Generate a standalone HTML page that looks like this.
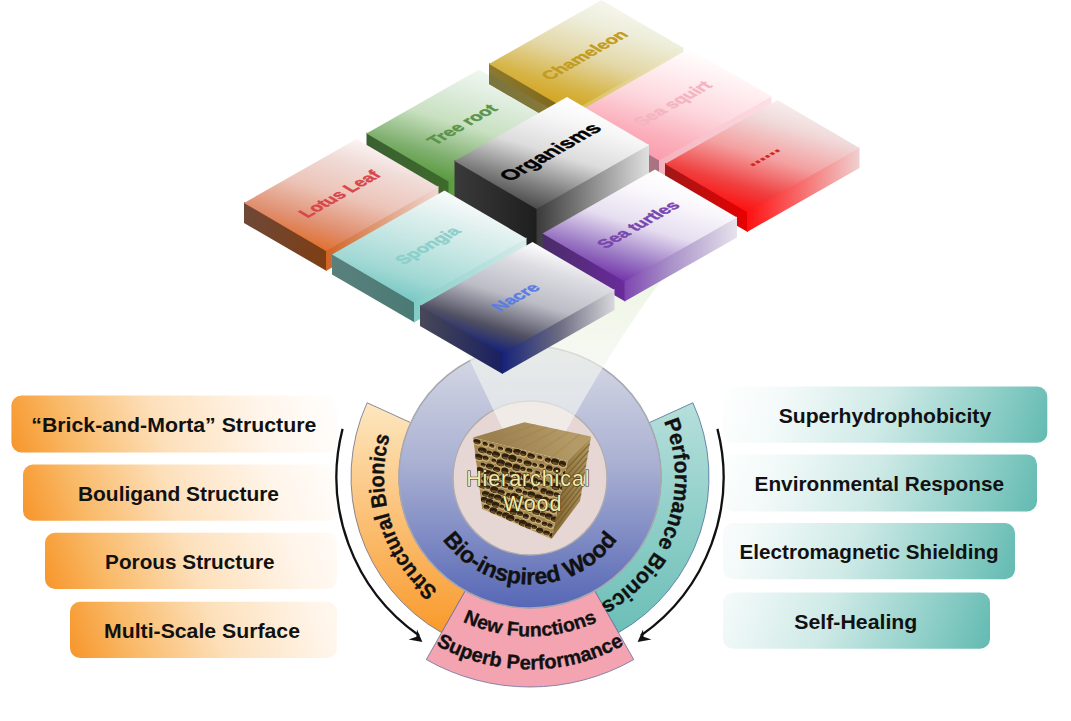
<!DOCTYPE html><html><head><meta charset="utf-8"><style>html,body{margin:0;padding:0;background:#fff;}svg{display:block}</style></head><body>
<svg width="1071" height="721" viewBox="0 0 1071 721">
<defs><linearGradient id="gOr" x1="0" y1="1" x2="1" y2="0.3">
<stop offset="0" stop-color="#f7982a"/><stop offset="0.45" stop-color="#fbd7a6"/><stop offset="1" stop-color="#ffffff"/></linearGradient><linearGradient id="gTe" x1="1" y1="1" x2="0" y2="0.3">
<stop offset="0" stop-color="#6cbfb6"/><stop offset="0.5" stop-color="#c4e6e2"/><stop offset="1" stop-color="#ffffff"/></linearGradient><linearGradient id="go395" gradientUnits="userSpaceOnUse" x1="11.4" y1="452.5" x2="321.6" y2="340.3"><stop offset="0" stop-color="#f7952a"/><stop offset="0.18" stop-color="#f9b865"/><stop offset="0.45" stop-color="#fde0bb"/><stop offset="0.75" stop-color="#fff5ea"/><stop offset="1" stop-color="#ffffff"/></linearGradient><linearGradient id="go464" gradientUnits="userSpaceOnUse" x1="23" y1="520.7" x2="333.2" y2="408.5"><stop offset="0" stop-color="#f7952a"/><stop offset="0.18" stop-color="#f9b865"/><stop offset="0.45" stop-color="#fde0bb"/><stop offset="0.75" stop-color="#fff5ea"/><stop offset="1" stop-color="#ffffff"/></linearGradient><linearGradient id="go532" gradientUnits="userSpaceOnUse" x1="45" y1="588.9" x2="355.2" y2="476.7"><stop offset="0" stop-color="#f7952a"/><stop offset="0.18" stop-color="#f9b865"/><stop offset="0.45" stop-color="#fde0bb"/><stop offset="0.75" stop-color="#fff5ea"/><stop offset="1" stop-color="#ffffff"/></linearGradient><linearGradient id="go601" gradientUnits="userSpaceOnUse" x1="70" y1="658" x2="380.2" y2="545.8"><stop offset="0" stop-color="#f7952a"/><stop offset="0.18" stop-color="#f9b865"/><stop offset="0.45" stop-color="#fde0bb"/><stop offset="0.75" stop-color="#fff5ea"/><stop offset="1" stop-color="#ffffff"/></linearGradient><linearGradient id="gt386" gradientUnits="userSpaceOnUse" x1="1047.3" y1="442.8" x2="737.1" y2="330.6"><stop offset="0" stop-color="#62bab1"/><stop offset="0.2" stop-color="#8fcfc8"/><stop offset="0.5" stop-color="#cfeae7"/><stop offset="0.8" stop-color="#f3faf9"/><stop offset="1" stop-color="#ffffff"/></linearGradient><linearGradient id="gt454" gradientUnits="userSpaceOnUse" x1="1037" y1="511.4" x2="726.8" y2="399.2"><stop offset="0" stop-color="#62bab1"/><stop offset="0.2" stop-color="#8fcfc8"/><stop offset="0.5" stop-color="#cfeae7"/><stop offset="0.8" stop-color="#f3faf9"/><stop offset="1" stop-color="#ffffff"/></linearGradient><linearGradient id="gt523" gradientUnits="userSpaceOnUse" x1="1015" y1="579.2" x2="704.8" y2="467.0"><stop offset="0" stop-color="#62bab1"/><stop offset="0.2" stop-color="#8fcfc8"/><stop offset="0.5" stop-color="#cfeae7"/><stop offset="0.8" stop-color="#f3faf9"/><stop offset="1" stop-color="#ffffff"/></linearGradient><linearGradient id="gt592" gradientUnits="userSpaceOnUse" x1="990" y1="648.7" x2="679.8" y2="536.5"><stop offset="0" stop-color="#62bab1"/><stop offset="0.2" stop-color="#8fcfc8"/><stop offset="0.5" stop-color="#cfeae7"/><stop offset="0.8" stop-color="#f3faf9"/><stop offset="1" stop-color="#ffffff"/></linearGradient><linearGradient id="gBandO" x1="0" y1="0" x2="0" y2="1"><stop offset="0" stop-color="#fde7c0"/><stop offset="1" stop-color="#f99a2c"/></linearGradient><linearGradient id="gBandT" x1="0" y1="0" x2="0" y2="1"><stop offset="0" stop-color="#b6dfdb"/><stop offset="1" stop-color="#6bbfb7"/></linearGradient><linearGradient id="gRing" x1="0" y1="0" x2="0" y2="1"><stop offset="0" stop-color="#d9dbe6"/><stop offset="0.45" stop-color="#a9b0d2"/><stop offset="1" stop-color="#5667b6"/></linearGradient><linearGradient id="gBeam" gradientUnits="userSpaceOnUse" x1="0" y1="270" x2="0" y2="490"><stop offset="0" stop-color="#e6f2d8" stop-opacity="0.75"/><stop offset="0.45" stop-color="#f2f6ee" stop-opacity="0.62"/><stop offset="1" stop-color="#ffffff" stop-opacity="0.55"/></linearGradient><clipPath id="cFront"><polygon points="473,437.5 567.7,461 551.5,539 482,509"/></clipPath><linearGradient id="gWTop" gradientUnits="userSpaceOnUse" x1="500" y1="450" x2="560" y2="420"><stop offset="0" stop-color="#9c8050"/><stop offset="1" stop-color="#b49a66"/></linearGradient><linearGradient id="gWR" gradientUnits="userSpaceOnUse" x1="560" y1="0" x2="592" y2="0"><stop offset="0" stop-color="#8a6e38"/><stop offset="1" stop-color="#b09860"/></linearGradient><path id="pStruct" d="M481.26,614.63 A146,146 0 0 1 412.03,390.98"/><path id="pPerf" d="M651.19,397.39 A145,145 0 0 1 575.53,614.67"/><path id="pBio" d="M424.13,495.67 A107.5,107.5 0 0 0 635.87,495.67"/><path id="pNew" d="M427.48,599.18 A159.5,159.5 0 0 0 632.52,599.18"/><path id="pSup" d="M406.26,624.46 A192.5,192.5 0 0 0 653.74,624.46"/><linearGradient id="t_tree" gradientUnits="userSpaceOnUse" x1="448.5" y1="181.5" x2="481.8" y2="70.3"><stop offset="0" stop-color="#5a9a3e"/><stop offset="0.2" stop-color="#80b070"/><stop offset="0.5" stop-color="#c8e0c0"/><stop offset="0.8" stop-color="#e0eee0"/><stop offset="1" stop-color="#f0f8f0"/></linearGradient><linearGradient id="l_tree" gradientUnits="userSpaceOnUse" x1="366.5" y1="0" x2="448.5" y2="0"><stop offset="0" stop-color="#3a6030"/><stop offset="1" stop-color="#3e6a2c"/></linearGradient><linearGradient id="r_tree" gradientUnits="userSpaceOnUse" x1="448.5" y1="0" x2="561.0" y2="0"><stop offset="0" stop-color="#5a9a40"/><stop offset="1" stop-color="#c8e0c8"/></linearGradient><linearGradient id="t_cham" gradientUnits="userSpaceOnUse" x1="571.0" y1="112.0" x2="604.3" y2="0.8"><stop offset="0" stop-color="#d4a21a"/><stop offset="0.2" stop-color="#d6b446"/><stop offset="0.5" stop-color="#e4d8a8"/><stop offset="0.8" stop-color="#eeeedc"/><stop offset="1" stop-color="#f6f6ee"/></linearGradient><linearGradient id="l_cham" gradientUnits="userSpaceOnUse" x1="489.0" y1="0" x2="571.0" y2="0"><stop offset="0" stop-color="#8c7a30"/><stop offset="1" stop-color="#7c6418"/></linearGradient><linearGradient id="r_cham" gradientUnits="userSpaceOnUse" x1="571.0" y1="0" x2="683.5" y2="0"><stop offset="0" stop-color="#d8b84a"/><stop offset="1" stop-color="#eeeed8"/></linearGradient><linearGradient id="l2_cham" gradientUnits="userSpaceOnUse" x1="489.0" y1="0" x2="571.0" y2="0"><stop offset="0" stop-color="#7a7440"/><stop offset="1" stop-color="#8a7a34"/></linearGradient><linearGradient id="t_sq" gradientUnits="userSpaceOnUse" x1="659.0" y1="160.5" x2="692.3" y2="49.3"><stop offset="0" stop-color="#fb9cae"/><stop offset="0.2" stop-color="#fbb0bc"/><stop offset="0.5" stop-color="#fdd8de"/><stop offset="0.8" stop-color="#fff0f2"/><stop offset="1" stop-color="#ffffff"/></linearGradient><linearGradient id="l_sq" gradientUnits="userSpaceOnUse" x1="577.0" y1="0" x2="659.0" y2="0"><stop offset="0" stop-color="#c09098"/><stop offset="1" stop-color="#a87080"/></linearGradient><linearGradient id="r_sq" gradientUnits="userSpaceOnUse" x1="659.0" y1="0" x2="771.5" y2="0"><stop offset="0" stop-color="#f4b0bc"/><stop offset="1" stop-color="#fde0e6"/></linearGradient><linearGradient id="t_lotus" gradientUnits="userSpaceOnUse" x1="326.0" y1="251.0" x2="359.3" y2="139.8"><stop offset="0" stop-color="#e07030"/><stop offset="0.2" stop-color="#e09070"/><stop offset="0.5" stop-color="#ecc4b8"/><stop offset="0.8" stop-color="#f0dcd8"/><stop offset="1" stop-color="#fcf4f4"/></linearGradient><linearGradient id="l_lotus" gradientUnits="userSpaceOnUse" x1="244.0" y1="0" x2="326.0" y2="0"><stop offset="0" stop-color="#6e4838"/><stop offset="1" stop-color="#7e3e14"/></linearGradient><linearGradient id="r_lotus" gradientUnits="userSpaceOnUse" x1="326.0" y1="0" x2="438.5" y2="0"><stop offset="0" stop-color="#d06424"/><stop offset="1" stop-color="#f0d8d4"/></linearGradient><linearGradient id="t_org" gradientUnits="userSpaceOnUse" x1="536.5" y1="209.0" x2="569.8" y2="97.8"><stop offset="0" stop-color="#4a4a4a"/><stop offset="0.2" stop-color="#808080"/><stop offset="0.5" stop-color="#dcdcdc"/><stop offset="0.8" stop-color="#f6f6f6"/><stop offset="1" stop-color="#ffffff"/></linearGradient><linearGradient id="l_org" gradientUnits="userSpaceOnUse" x1="454.5" y1="0" x2="536.5" y2="0"><stop offset="0" stop-color="#3a3a3a"/><stop offset="1" stop-color="#1e1e1e"/></linearGradient><linearGradient id="r_org" gradientUnits="userSpaceOnUse" x1="536.5" y1="0" x2="649.0" y2="0"><stop offset="0" stop-color="#3a3a3a"/><stop offset="1" stop-color="#e0e0e0"/></linearGradient><linearGradient id="t_red" gradientUnits="userSpaceOnUse" x1="747.0" y1="212.0" x2="780.3" y2="100.8"><stop offset="0" stop-color="#ff1010"/><stop offset="0.2" stop-color="#f04040"/><stop offset="0.5" stop-color="#f4a0a0"/><stop offset="0.8" stop-color="#f0d8d8"/><stop offset="1" stop-color="#f8eeee"/></linearGradient><linearGradient id="l_red" gradientUnits="userSpaceOnUse" x1="665.0" y1="0" x2="747.0" y2="0"><stop offset="0" stop-color="#a01818"/><stop offset="1" stop-color="#e80000"/></linearGradient><linearGradient id="r_red" gradientUnits="userSpaceOnUse" x1="747.0" y1="0" x2="859.5" y2="0"><stop offset="0" stop-color="#ff1010"/><stop offset="1" stop-color="#f0d0d0"/></linearGradient><linearGradient id="t_spon" gradientUnits="userSpaceOnUse" x1="414.0" y1="302.5" x2="447.3" y2="191.3"><stop offset="0" stop-color="#78c8c4"/><stop offset="0.2" stop-color="#a0d8d4"/><stop offset="0.5" stop-color="#c4e6e3"/><stop offset="0.8" stop-color="#e4f2f0"/><stop offset="1" stop-color="#fafcfc"/></linearGradient><linearGradient id="l_spon" gradientUnits="userSpaceOnUse" x1="332.0" y1="0" x2="414.0" y2="0"><stop offset="0" stop-color="#5a807c"/><stop offset="1" stop-color="#4a7a74"/></linearGradient><linearGradient id="r_spon" gradientUnits="userSpaceOnUse" x1="414.0" y1="0" x2="526.5" y2="0"><stop offset="0" stop-color="#80ccc6"/><stop offset="1" stop-color="#d8eceb"/></linearGradient><linearGradient id="t_turt" gradientUnits="userSpaceOnUse" x1="624.5" y1="281.5" x2="657.8" y2="170.3"><stop offset="0" stop-color="#7434aa"/><stop offset="0.2" stop-color="#9a78c4"/><stop offset="0.5" stop-color="#e6def0"/><stop offset="0.8" stop-color="#faf8fc"/><stop offset="1" stop-color="#ffffff"/></linearGradient><linearGradient id="l_turt" gradientUnits="userSpaceOnUse" x1="542.5" y1="0" x2="624.5" y2="0"><stop offset="0" stop-color="#4a2c68"/><stop offset="1" stop-color="#6a2a9c"/></linearGradient><linearGradient id="r_turt" gradientUnits="userSpaceOnUse" x1="624.5" y1="0" x2="737.0" y2="0"><stop offset="0" stop-color="#7e46b0"/><stop offset="0.4" stop-color="#a890c8"/><stop offset="1" stop-color="#e6e2ec"/></linearGradient><linearGradient id="t_nacre" gradientUnits="userSpaceOnUse" x1="502.0" y1="354.0" x2="535.3" y2="242.8"><stop offset="0" stop-color="#13207a"/><stop offset="0.2" stop-color="#505062"/><stop offset="0.5" stop-color="#bcbcc6"/><stop offset="0.8" stop-color="#dcdce2"/><stop offset="1" stop-color="#ffffff"/></linearGradient><linearGradient id="l_nacre" gradientUnits="userSpaceOnUse" x1="420.0" y1="0" x2="502.0" y2="0"><stop offset="0" stop-color="#484858"/><stop offset="1" stop-color="#1a2060"/></linearGradient><linearGradient id="r_nacre" gradientUnits="userSpaceOnUse" x1="502.0" y1="0" x2="614.5" y2="0"><stop offset="0" stop-color="#16227a"/><stop offset="0.5" stop-color="#6a6a80"/><stop offset="1" stop-color="#d8d8dc"/></linearGradient></defs>
<rect width="1071" height="721" fill="#fff"/>
<rect x="11.4" y="395.5" width="325.6" height="57.0" rx="10" fill="url(#go395)"/>
<text x="173.8" y="432.0" text-anchor="middle" font-family="Liberation Sans, sans-serif" font-weight="bold" font-size="20.5" fill="#111" textLength="285" lengthAdjust="spacingAndGlyphs">“Brick-and-Morta” Structure</text>
<rect x="23" y="464.5" width="314" height="56.200000000000045" rx="10" fill="url(#go464)"/>
<text x="178.5" y="500.6" text-anchor="middle" font-family="Liberation Sans, sans-serif" font-weight="bold" font-size="20.5" fill="#111" textLength="201" lengthAdjust="spacingAndGlyphs">Bouligand Structure</text>
<rect x="45" y="532.7" width="292" height="56.19999999999993" rx="10" fill="url(#go532)"/>
<text x="189.8" y="568.8" text-anchor="middle" font-family="Liberation Sans, sans-serif" font-weight="bold" font-size="20.5" fill="#111" textLength="169.4" lengthAdjust="spacingAndGlyphs">Porous Structure</text>
<rect x="70" y="601.8" width="267" height="56.200000000000045" rx="10" fill="url(#go601)"/>
<text x="202" y="637.9" text-anchor="middle" font-family="Liberation Sans, sans-serif" font-weight="bold" font-size="20.5" fill="#111" textLength="196" lengthAdjust="spacingAndGlyphs">Multi-Scale Surface</text>
<rect x="723" y="386.6" width="324.29999999999995" height="56.19999999999999" rx="10" fill="url(#gt386)"/>
<text x="884.9" y="422.70000000000005" text-anchor="middle" font-family="Liberation Sans, sans-serif" font-weight="bold" font-size="20.5" fill="#111" textLength="212.5" lengthAdjust="spacingAndGlyphs">Superhydrophobicity</text>
<rect x="723" y="454.4" width="314" height="57.0" rx="10" fill="url(#gt454)"/>
<text x="879.3" y="490.9" text-anchor="middle" font-family="Liberation Sans, sans-serif" font-weight="bold" font-size="20.5" fill="#111" textLength="249.5" lengthAdjust="spacingAndGlyphs">Environmental Response</text>
<rect x="723" y="523" width="292" height="56.200000000000045" rx="10" fill="url(#gt523)"/>
<text x="869.1" y="559.1" text-anchor="middle" font-family="Liberation Sans, sans-serif" font-weight="bold" font-size="20.5" fill="#111" textLength="259" lengthAdjust="spacingAndGlyphs">Electromagnetic Shielding</text>
<rect x="723" y="592.5" width="267" height="56.200000000000045" rx="10" fill="url(#gt592)"/>
<text x="855.8" y="628.6" text-anchor="middle" font-family="Liberation Sans, sans-serif" font-weight="bold" font-size="20.5" fill="#111" textLength="123" lengthAdjust="spacingAndGlyphs">Self-Healing</text>
<path d="M342.58,428.88 A193.5,193.5 0 0 0 419.01,635.51" fill="none" stroke="#111" stroke-width="2.3"/>
<path d="M717.42,428.88 A193.5,193.5 0 0 1 640.99,635.51" fill="none" stroke="#111" stroke-width="2.3"/>
<path d="M408.6,639.4 L422.4,642.0 L417.0,629.6 L416.4,636.8 Z" fill="#111"/>
<path d="M651.4,639.4 L637.6,642.0 L643.0,629.6 L643.6,636.8 Z" fill="#111"/>
<path d="M441.58,632.64 A179,179 0 0 1 367.12,402.77 L410.80,422.68 A131,131 0 0 0 465.29,590.90 Z" fill="url(#gBandO)" stroke="#6a6f8a" stroke-width="0.8"/>
<path d="M692.88,402.77 A179,179 0 0 1 618.42,632.64 L594.71,590.90 A131,131 0 0 0 649.20,422.68 Z" fill="url(#gBandT)" stroke="#4a6f9a" stroke-width="0.8"/>
<path d="M633.73,659.59 A210,210 0 0 1 426.27,659.59 L465.29,590.90 A131,131 0 0 0 594.71,590.90 Z" fill="#f4a3b0" stroke="#6a6f9a" stroke-width="0.8"/>
<circle cx="530" cy="477" r="131" fill="url(#gRing)" stroke="#a8a8b0" stroke-width="1.5"/>
<circle cx="530" cy="478" r="77" fill="#e6d6d4" stroke="#b0acb0" stroke-width="1.5"/>
<path d="M441,300 L677,260 Q609,345 533,493 Z" fill="url(#gBeam)"/>
<polygon points="473,437.5 524.5,422.2 591,436.6 567.7,461" fill="url(#gWTop)"/>
<line x1="488.8" y1="441.4" x2="535.6" y2="424.6" stroke="#9a7e48" stroke-width="1.5" opacity="0.3"/>
<line x1="504.6" y1="445.3" x2="546.7" y2="427.0" stroke="#9a7e48" stroke-width="1.5" opacity="0.3"/>
<line x1="520.4" y1="449.2" x2="557.8" y2="429.4" stroke="#9a7e48" stroke-width="1.5" opacity="0.3"/>
<line x1="536.1" y1="453.2" x2="568.8" y2="431.8" stroke="#9a7e48" stroke-width="1.5" opacity="0.3"/>
<line x1="551.9" y1="457.1" x2="579.9" y2="434.2" stroke="#9a7e48" stroke-width="1.5" opacity="0.3"/>
<polygon points="567.7,461 591,436.6 580,501 551.5,539" fill="url(#gWR)"/>
<line x1="565.9" y1="469.7" x2="589.8" y2="443.8" stroke="#6e5628" stroke-width="1.2" opacity="0.7"/>
<line x1="564.1" y1="478.3" x2="588.6" y2="450.9" stroke="#6e5628" stroke-width="1.2" opacity="0.7"/>
<line x1="562.3" y1="487.0" x2="587.3" y2="458.1" stroke="#6e5628" stroke-width="1.2" opacity="0.7"/>
<line x1="560.5" y1="495.7" x2="586.1" y2="465.2" stroke="#6e5628" stroke-width="1.2" opacity="0.7"/>
<line x1="558.7" y1="504.3" x2="584.9" y2="472.4" stroke="#6e5628" stroke-width="1.2" opacity="0.7"/>
<line x1="556.9" y1="513.0" x2="583.7" y2="479.5" stroke="#6e5628" stroke-width="1.2" opacity="0.7"/>
<line x1="555.1" y1="521.7" x2="582.4" y2="486.7" stroke="#6e5628" stroke-width="1.2" opacity="0.7"/>
<line x1="553.3" y1="530.3" x2="581.2" y2="493.8" stroke="#6e5628" stroke-width="1.2" opacity="0.7"/>
<g clip-path="url(#cFront)"><polygon points="473,437.5 567.7,461 551.5,539 482,509" fill="#a48650"/>
<ellipse cx="477.4" cy="442.3" rx="4.8" ry="3.3" transform="rotate(15 476.9 441.6)" fill="#caae74"/>
<ellipse cx="476.9" cy="441.6" rx="3.9" ry="2.4" transform="rotate(15 476.9 441.6)" fill="#2e200c"/>
<ellipse cx="477.2" cy="442.9" rx="2.9" ry="0.8" transform="rotate(15 476.9 441.6)" fill="#6a5028"/>
<ellipse cx="485.7" cy="444.6" rx="3.6" ry="2.8" transform="rotate(15 485.2 443.9)" fill="#caae74"/>
<ellipse cx="485.2" cy="443.9" rx="2.7" ry="1.9" transform="rotate(15 485.2 443.9)" fill="#2e200c"/>
<ellipse cx="485.5" cy="445.0" rx="2.0" ry="0.7" transform="rotate(15 485.2 443.9)" fill="#6a5028"/>
<ellipse cx="492.3" cy="446.4" rx="3.6" ry="2.6" transform="rotate(15 491.8 445.7)" fill="#caae74"/>
<ellipse cx="491.8" cy="445.7" rx="2.7" ry="1.7" transform="rotate(15 491.8 445.7)" fill="#2e200c"/>
<ellipse cx="492.1" cy="446.6" rx="2.1" ry="0.6" transform="rotate(15 491.8 445.7)" fill="#6a5028"/>
<ellipse cx="501.0" cy="449.1" rx="3.7" ry="2.7" transform="rotate(15 500.5 448.4)" fill="#caae74"/>
<ellipse cx="500.5" cy="448.4" rx="2.8" ry="1.8" transform="rotate(15 500.5 448.4)" fill="#2e200c"/>
<ellipse cx="500.8" cy="449.4" rx="2.1" ry="0.6" transform="rotate(15 500.5 448.4)" fill="#6a5028"/>
<ellipse cx="509.3" cy="451.3" rx="4.7" ry="3.5" transform="rotate(15 508.8 450.6)" fill="#caae74"/>
<ellipse cx="508.8" cy="450.6" rx="3.8" ry="2.6" transform="rotate(15 508.8 450.6)" fill="#2e200c"/>
<ellipse cx="509.1" cy="452.0" rx="2.8" ry="0.9" transform="rotate(15 508.8 450.6)" fill="#6a5028"/>
<ellipse cx="517.9" cy="452.4" rx="5.2" ry="3.7" transform="rotate(15 517.4 451.7)" fill="#caae74"/>
<ellipse cx="517.4" cy="451.7" rx="4.3" ry="2.8" transform="rotate(15 517.4 451.7)" fill="#2e200c"/>
<ellipse cx="517.7" cy="453.3" rx="3.2" ry="1.0" transform="rotate(15 517.4 451.7)" fill="#6a5028"/>
<ellipse cx="523.8" cy="454.0" rx="4.1" ry="3.4" transform="rotate(15 523.3 453.3)" fill="#caae74"/>
<ellipse cx="523.3" cy="453.3" rx="3.2" ry="2.5" transform="rotate(15 523.3 453.3)" fill="#2e200c"/>
<ellipse cx="523.6" cy="454.7" rx="2.4" ry="0.9" transform="rotate(15 523.3 453.3)" fill="#6a5028"/>
<ellipse cx="531.6" cy="456.6" rx="4.8" ry="3.5" transform="rotate(15 531.1 455.9)" fill="#caae74"/>
<ellipse cx="531.1" cy="455.9" rx="3.9" ry="2.6" transform="rotate(15 531.1 455.9)" fill="#2e200c"/>
<ellipse cx="531.4" cy="457.3" rx="2.9" ry="0.9" transform="rotate(15 531.1 455.9)" fill="#6a5028"/>
<ellipse cx="540.3" cy="458.1" rx="3.6" ry="2.6" transform="rotate(15 539.8 457.4)" fill="#caae74"/>
<ellipse cx="539.8" cy="457.4" rx="2.7" ry="1.7" transform="rotate(15 539.8 457.4)" fill="#2e200c"/>
<ellipse cx="540.1" cy="458.4" rx="2.0" ry="0.6" transform="rotate(15 539.8 457.4)" fill="#6a5028"/>
<ellipse cx="548.4" cy="460.7" rx="4.1" ry="3.2" transform="rotate(15 547.9 460.0)" fill="#caae74"/>
<ellipse cx="547.9" cy="460.0" rx="3.2" ry="2.3" transform="rotate(15 547.9 460.0)" fill="#2e200c"/>
<ellipse cx="548.2" cy="461.2" rx="2.4" ry="0.8" transform="rotate(15 547.9 460.0)" fill="#6a5028"/>
<ellipse cx="555.6" cy="462.3" rx="5.1" ry="4.0" transform="rotate(15 555.1 461.6)" fill="#caae74"/>
<ellipse cx="555.1" cy="461.6" rx="4.2" ry="3.1" transform="rotate(15 555.1 461.6)" fill="#2e200c"/>
<ellipse cx="555.4" cy="463.4" rx="3.1" ry="1.1" transform="rotate(15 555.1 461.6)" fill="#6a5028"/>
<ellipse cx="562.9" cy="464.5" rx="4.6" ry="3.7" transform="rotate(15 562.4 463.8)" fill="#caae74"/>
<ellipse cx="562.4" cy="463.8" rx="3.7" ry="2.8" transform="rotate(15 562.4 463.8)" fill="#2e200c"/>
<ellipse cx="562.7" cy="465.4" rx="2.7" ry="1.0" transform="rotate(15 562.4 463.8)" fill="#6a5028"/>
<ellipse cx="482.9" cy="450.9" rx="5.5" ry="3.7" transform="rotate(15 482.4 450.2)" fill="#caae74"/>
<ellipse cx="482.4" cy="450.2" rx="4.6" ry="2.8" transform="rotate(15 482.4 450.2)" fill="#2e200c"/>
<ellipse cx="482.7" cy="451.7" rx="3.4" ry="1.0" transform="rotate(15 482.4 450.2)" fill="#6a5028"/>
<ellipse cx="489.8" cy="453.3" rx="3.8" ry="2.9" transform="rotate(15 489.3 452.6)" fill="#caae74"/>
<ellipse cx="489.3" cy="452.6" rx="2.9" ry="2.0" transform="rotate(15 489.3 452.6)" fill="#2e200c"/>
<ellipse cx="489.6" cy="453.7" rx="2.2" ry="0.7" transform="rotate(15 489.3 452.6)" fill="#6a5028"/>
<ellipse cx="496.5" cy="455.0" rx="5.0" ry="3.9" transform="rotate(15 496.0 454.3)" fill="#caae74"/>
<ellipse cx="496.0" cy="454.3" rx="4.1" ry="3.0" transform="rotate(15 496.0 454.3)" fill="#2e200c"/>
<ellipse cx="496.3" cy="455.9" rx="3.1" ry="1.0" transform="rotate(15 496.0 454.3)" fill="#6a5028"/>
<ellipse cx="506.0" cy="457.1" rx="4.9" ry="3.8" transform="rotate(15 505.5 456.4)" fill="#caae74"/>
<ellipse cx="505.5" cy="456.4" rx="4.0" ry="2.9" transform="rotate(15 505.5 456.4)" fill="#2e200c"/>
<ellipse cx="505.8" cy="458.0" rx="3.0" ry="1.0" transform="rotate(15 505.5 456.4)" fill="#6a5028"/>
<ellipse cx="512.9" cy="459.1" rx="5.2" ry="4.3" transform="rotate(15 512.4 458.4)" fill="#caae74"/>
<ellipse cx="512.4" cy="458.4" rx="4.3" ry="3.4" transform="rotate(15 512.4 458.4)" fill="#2e200c"/>
<ellipse cx="512.7" cy="460.3" rx="3.2" ry="1.2" transform="rotate(15 512.4 458.4)" fill="#6a5028"/>
<ellipse cx="520.2" cy="461.3" rx="3.6" ry="2.9" transform="rotate(15 519.7 460.6)" fill="#caae74"/>
<ellipse cx="519.7" cy="460.6" rx="2.7" ry="2.0" transform="rotate(15 519.7 460.6)" fill="#2e200c"/>
<ellipse cx="520.0" cy="461.8" rx="2.0" ry="0.7" transform="rotate(15 519.7 460.6)" fill="#6a5028"/>
<ellipse cx="528.2" cy="463.9" rx="5.1" ry="3.7" transform="rotate(15 527.7 463.2)" fill="#caae74"/>
<ellipse cx="527.7" cy="463.2" rx="4.2" ry="2.8" transform="rotate(15 527.7 463.2)" fill="#2e200c"/>
<ellipse cx="528.0" cy="464.7" rx="3.2" ry="1.0" transform="rotate(15 527.7 463.2)" fill="#6a5028"/>
<ellipse cx="535.2" cy="465.4" rx="3.5" ry="2.7" transform="rotate(15 534.7 464.7)" fill="#caae74"/>
<ellipse cx="534.7" cy="464.7" rx="2.6" ry="1.8" transform="rotate(15 534.7 464.7)" fill="#2e200c"/>
<ellipse cx="535.0" cy="465.7" rx="2.0" ry="0.6" transform="rotate(15 534.7 464.7)" fill="#6a5028"/>
<ellipse cx="542.3" cy="466.6" rx="3.6" ry="2.9" transform="rotate(15 541.8 465.9)" fill="#caae74"/>
<ellipse cx="541.8" cy="465.9" rx="2.7" ry="2.0" transform="rotate(15 541.8 465.9)" fill="#2e200c"/>
<ellipse cx="542.1" cy="467.0" rx="2.0" ry="0.7" transform="rotate(15 541.8 465.9)" fill="#6a5028"/>
<ellipse cx="549.8" cy="468.8" rx="4.3" ry="3.5" transform="rotate(15 549.3 468.1)" fill="#caae74"/>
<ellipse cx="549.3" cy="468.1" rx="3.4" ry="2.6" transform="rotate(15 549.3 468.1)" fill="#2e200c"/>
<ellipse cx="549.6" cy="469.5" rx="2.5" ry="0.9" transform="rotate(15 549.3 468.1)" fill="#6a5028"/>
<ellipse cx="557.3" cy="471.0" rx="4.6" ry="3.8" transform="rotate(15 556.8 470.3)" fill="#caae74"/>
<ellipse cx="556.8" cy="470.3" rx="3.7" ry="2.9" transform="rotate(15 556.8 470.3)" fill="#2e200c"/>
<ellipse cx="557.1" cy="471.9" rx="2.8" ry="1.0" transform="rotate(15 556.8 470.3)" fill="#6a5028"/>
<ellipse cx="566.4" cy="474.0" rx="4.1" ry="3.1" transform="rotate(15 565.9 473.3)" fill="#caae74"/>
<ellipse cx="565.9" cy="473.3" rx="3.2" ry="2.2" transform="rotate(15 565.9 473.3)" fill="#2e200c"/>
<ellipse cx="566.2" cy="474.5" rx="2.4" ry="0.8" transform="rotate(15 565.9 473.3)" fill="#6a5028"/>
<ellipse cx="479.2" cy="457.5" rx="5.4" ry="3.7" transform="rotate(15 478.7 456.8)" fill="#caae74"/>
<ellipse cx="478.7" cy="456.8" rx="4.5" ry="2.8" transform="rotate(15 478.7 456.8)" fill="#2e200c"/>
<ellipse cx="479.0" cy="458.3" rx="3.4" ry="1.0" transform="rotate(15 478.7 456.8)" fill="#6a5028"/>
<ellipse cx="486.1" cy="458.7" rx="4.0" ry="3.0" transform="rotate(15 485.6 458.0)" fill="#caae74"/>
<ellipse cx="485.6" cy="458.0" rx="3.1" ry="2.1" transform="rotate(15 485.6 458.0)" fill="#2e200c"/>
<ellipse cx="485.9" cy="459.2" rx="2.3" ry="0.7" transform="rotate(15 485.6 458.0)" fill="#6a5028"/>
<ellipse cx="494.3" cy="461.1" rx="3.5" ry="2.7" transform="rotate(15 493.8 460.4)" fill="#caae74"/>
<ellipse cx="493.8" cy="460.4" rx="2.6" ry="1.8" transform="rotate(15 493.8 460.4)" fill="#2e200c"/>
<ellipse cx="494.1" cy="461.4" rx="2.0" ry="0.6" transform="rotate(15 493.8 460.4)" fill="#6a5028"/>
<ellipse cx="501.2" cy="463.4" rx="5.4" ry="4.2" transform="rotate(15 500.7 462.7)" fill="#caae74"/>
<ellipse cx="500.7" cy="462.7" rx="4.5" ry="3.3" transform="rotate(15 500.7 462.7)" fill="#2e200c"/>
<ellipse cx="501.0" cy="464.5" rx="3.4" ry="1.2" transform="rotate(15 500.7 462.7)" fill="#6a5028"/>
<ellipse cx="508.9" cy="465.6" rx="4.9" ry="3.3" transform="rotate(15 508.4 464.9)" fill="#caae74"/>
<ellipse cx="508.4" cy="464.9" rx="4.0" ry="2.4" transform="rotate(15 508.4 464.9)" fill="#2e200c"/>
<ellipse cx="508.7" cy="466.3" rx="3.0" ry="0.8" transform="rotate(15 508.4 464.9)" fill="#6a5028"/>
<ellipse cx="517.1" cy="468.2" rx="5.2" ry="4.2" transform="rotate(15 516.6 467.5)" fill="#caae74"/>
<ellipse cx="516.6" cy="467.5" rx="4.3" ry="3.3" transform="rotate(15 516.6 467.5)" fill="#2e200c"/>
<ellipse cx="516.9" cy="469.3" rx="3.3" ry="1.2" transform="rotate(15 516.6 467.5)" fill="#6a5028"/>
<ellipse cx="523.4" cy="469.5" rx="3.7" ry="2.9" transform="rotate(15 522.9 468.8)" fill="#caae74"/>
<ellipse cx="522.9" cy="468.8" rx="2.8" ry="2.0" transform="rotate(15 522.9 468.8)" fill="#2e200c"/>
<ellipse cx="523.2" cy="469.9" rx="2.1" ry="0.7" transform="rotate(15 522.9 468.8)" fill="#6a5028"/>
<ellipse cx="530.1" cy="471.0" rx="3.9" ry="2.8" transform="rotate(15 529.6 470.3)" fill="#caae74"/>
<ellipse cx="529.6" cy="470.3" rx="3.0" ry="1.9" transform="rotate(15 529.6 470.3)" fill="#2e200c"/>
<ellipse cx="529.9" cy="471.3" rx="2.3" ry="0.7" transform="rotate(15 529.6 470.3)" fill="#6a5028"/>
<ellipse cx="538.1" cy="473.2" rx="3.5" ry="2.5" transform="rotate(15 537.6 472.5)" fill="#caae74"/>
<ellipse cx="537.6" cy="472.5" rx="2.6" ry="1.6" transform="rotate(15 537.6 472.5)" fill="#2e200c"/>
<ellipse cx="537.9" cy="473.4" rx="2.0" ry="0.6" transform="rotate(15 537.6 472.5)" fill="#6a5028"/>
<ellipse cx="544.9" cy="475.5" rx="3.6" ry="3.0" transform="rotate(15 544.4 474.8)" fill="#caae74"/>
<ellipse cx="544.4" cy="474.8" rx="2.7" ry="2.1" transform="rotate(15 544.4 474.8)" fill="#2e200c"/>
<ellipse cx="544.7" cy="476.0" rx="2.0" ry="0.7" transform="rotate(15 544.4 474.8)" fill="#6a5028"/>
<ellipse cx="553.4" cy="477.7" rx="4.0" ry="3.0" transform="rotate(15 552.9 477.0)" fill="#caae74"/>
<ellipse cx="552.9" cy="477.0" rx="3.1" ry="2.1" transform="rotate(15 552.9 477.0)" fill="#2e200c"/>
<ellipse cx="553.2" cy="478.1" rx="2.3" ry="0.7" transform="rotate(15 552.9 477.0)" fill="#6a5028"/>
<ellipse cx="560.3" cy="479.6" rx="5.2" ry="4.3" transform="rotate(15 559.8 478.9)" fill="#caae74"/>
<ellipse cx="559.8" cy="478.9" rx="4.3" ry="3.4" transform="rotate(15 559.8 478.9)" fill="#2e200c"/>
<ellipse cx="560.1" cy="480.8" rx="3.2" ry="1.2" transform="rotate(15 559.8 478.9)" fill="#6a5028"/>
<ellipse cx="483.7" cy="465.3" rx="3.7" ry="2.6" transform="rotate(15 483.2 464.6)" fill="#caae74"/>
<ellipse cx="483.2" cy="464.6" rx="2.8" ry="1.7" transform="rotate(15 483.2 464.6)" fill="#2e200c"/>
<ellipse cx="483.5" cy="465.6" rx="2.1" ry="0.6" transform="rotate(15 483.2 464.6)" fill="#6a5028"/>
<ellipse cx="490.6" cy="467.1" rx="5.2" ry="3.6" transform="rotate(15 490.1 466.4)" fill="#caae74"/>
<ellipse cx="490.1" cy="466.4" rx="4.3" ry="2.7" transform="rotate(15 490.1 466.4)" fill="#2e200c"/>
<ellipse cx="490.4" cy="467.9" rx="3.2" ry="0.9" transform="rotate(15 490.1 466.4)" fill="#6a5028"/>
<ellipse cx="497.1" cy="469.9" rx="4.6" ry="3.2" transform="rotate(15 496.6 469.2)" fill="#caae74"/>
<ellipse cx="496.6" cy="469.2" rx="3.7" ry="2.3" transform="rotate(15 496.6 469.2)" fill="#2e200c"/>
<ellipse cx="496.9" cy="470.5" rx="2.7" ry="0.8" transform="rotate(15 496.6 469.2)" fill="#6a5028"/>
<ellipse cx="505.4" cy="471.3" rx="4.6" ry="3.8" transform="rotate(15 504.9 470.6)" fill="#caae74"/>
<ellipse cx="504.9" cy="470.6" rx="3.7" ry="2.9" transform="rotate(15 504.9 470.6)" fill="#2e200c"/>
<ellipse cx="505.2" cy="472.2" rx="2.7" ry="1.0" transform="rotate(15 504.9 470.6)" fill="#6a5028"/>
<ellipse cx="513.2" cy="474.4" rx="4.0" ry="3.0" transform="rotate(15 512.7 473.7)" fill="#caae74"/>
<ellipse cx="512.7" cy="473.7" rx="3.1" ry="2.1" transform="rotate(15 512.7 473.7)" fill="#2e200c"/>
<ellipse cx="513.0" cy="474.9" rx="2.3" ry="0.7" transform="rotate(15 512.7 473.7)" fill="#6a5028"/>
<ellipse cx="518.9" cy="476.2" rx="4.6" ry="3.7" transform="rotate(15 518.4 475.5)" fill="#caae74"/>
<ellipse cx="518.4" cy="475.5" rx="3.7" ry="2.8" transform="rotate(15 518.4 475.5)" fill="#2e200c"/>
<ellipse cx="518.7" cy="477.0" rx="2.7" ry="1.0" transform="rotate(15 518.4 475.5)" fill="#6a5028"/>
<ellipse cx="526.4" cy="477.8" rx="5.1" ry="4.3" transform="rotate(15 525.9 477.1)" fill="#caae74"/>
<ellipse cx="525.9" cy="477.1" rx="4.2" ry="3.4" transform="rotate(15 525.9 477.1)" fill="#2e200c"/>
<ellipse cx="526.2" cy="479.0" rx="3.2" ry="1.2" transform="rotate(15 525.9 477.1)" fill="#6a5028"/>
<ellipse cx="534.6" cy="481.0" rx="5.1" ry="4.1" transform="rotate(15 534.1 480.3)" fill="#caae74"/>
<ellipse cx="534.1" cy="480.3" rx="4.2" ry="3.2" transform="rotate(15 534.1 480.3)" fill="#2e200c"/>
<ellipse cx="534.4" cy="482.1" rx="3.2" ry="1.1" transform="rotate(15 534.1 480.3)" fill="#6a5028"/>
<ellipse cx="540.5" cy="482.4" rx="4.2" ry="2.9" transform="rotate(15 540.0 481.7)" fill="#caae74"/>
<ellipse cx="540.0" cy="481.7" rx="3.3" ry="2.0" transform="rotate(15 540.0 481.7)" fill="#2e200c"/>
<ellipse cx="540.3" cy="482.8" rx="2.5" ry="0.7" transform="rotate(15 540.0 481.7)" fill="#6a5028"/>
<ellipse cx="547.2" cy="484.1" rx="4.0" ry="3.2" transform="rotate(15 546.7 483.4)" fill="#caae74"/>
<ellipse cx="546.7" cy="483.4" rx="3.1" ry="2.3" transform="rotate(15 546.7 483.4)" fill="#2e200c"/>
<ellipse cx="547.0" cy="484.7" rx="2.3" ry="0.8" transform="rotate(15 546.7 483.4)" fill="#6a5028"/>
<ellipse cx="556.4" cy="487.1" rx="5.4" ry="4.5" transform="rotate(15 555.9 486.4)" fill="#caae74"/>
<ellipse cx="555.9" cy="486.4" rx="4.5" ry="3.6" transform="rotate(15 555.9 486.4)" fill="#2e200c"/>
<ellipse cx="556.2" cy="488.3" rx="3.4" ry="1.2" transform="rotate(15 555.9 486.4)" fill="#6a5028"/>
<ellipse cx="563.5" cy="489.1" rx="3.9" ry="2.9" transform="rotate(15 563.0 488.4)" fill="#caae74"/>
<ellipse cx="563.0" cy="488.4" rx="3.0" ry="2.0" transform="rotate(15 563.0 488.4)" fill="#2e200c"/>
<ellipse cx="563.3" cy="489.5" rx="2.3" ry="0.7" transform="rotate(15 563.0 488.4)" fill="#6a5028"/>
<ellipse cx="480.4" cy="470.9" rx="4.7" ry="3.9" transform="rotate(15 479.9 470.2)" fill="#caae74"/>
<ellipse cx="479.9" cy="470.2" rx="3.8" ry="3.0" transform="rotate(15 479.9 470.2)" fill="#2e200c"/>
<ellipse cx="480.2" cy="471.9" rx="2.9" ry="1.1" transform="rotate(15 479.9 470.2)" fill="#6a5028"/>
<ellipse cx="488.7" cy="473.9" rx="4.8" ry="3.9" transform="rotate(15 488.2 473.2)" fill="#caae74"/>
<ellipse cx="488.2" cy="473.2" rx="3.9" ry="3.0" transform="rotate(15 488.2 473.2)" fill="#2e200c"/>
<ellipse cx="488.5" cy="474.8" rx="2.9" ry="1.0" transform="rotate(15 488.2 473.2)" fill="#6a5028"/>
<ellipse cx="494.1" cy="475.8" rx="5.3" ry="4.2" transform="rotate(15 493.6 475.1)" fill="#caae74"/>
<ellipse cx="493.6" cy="475.1" rx="4.4" ry="3.3" transform="rotate(15 493.6 475.1)" fill="#2e200c"/>
<ellipse cx="493.9" cy="476.9" rx="3.3" ry="1.2" transform="rotate(15 493.6 475.1)" fill="#6a5028"/>
<ellipse cx="502.4" cy="478.2" rx="3.9" ry="3.1" transform="rotate(15 501.9 477.5)" fill="#caae74"/>
<ellipse cx="501.9" cy="477.5" rx="3.0" ry="2.2" transform="rotate(15 501.9 477.5)" fill="#2e200c"/>
<ellipse cx="502.2" cy="478.8" rx="2.2" ry="0.8" transform="rotate(15 501.9 477.5)" fill="#6a5028"/>
<ellipse cx="508.5" cy="480.5" rx="5.4" ry="4.0" transform="rotate(15 508.0 479.8)" fill="#caae74"/>
<ellipse cx="508.0" cy="479.8" rx="4.5" ry="3.1" transform="rotate(15 508.0 479.8)" fill="#2e200c"/>
<ellipse cx="508.3" cy="481.5" rx="3.4" ry="1.1" transform="rotate(15 508.0 479.8)" fill="#6a5028"/>
<ellipse cx="515.5" cy="483.0" rx="4.9" ry="3.5" transform="rotate(15 515.0 482.3)" fill="#caae74"/>
<ellipse cx="515.0" cy="482.3" rx="4.0" ry="2.6" transform="rotate(15 515.0 482.3)" fill="#2e200c"/>
<ellipse cx="515.3" cy="483.7" rx="3.0" ry="0.9" transform="rotate(15 515.0 482.3)" fill="#6a5028"/>
<ellipse cx="522.0" cy="484.0" rx="5.3" ry="4.3" transform="rotate(15 521.5 483.3)" fill="#caae74"/>
<ellipse cx="521.5" cy="483.3" rx="4.4" ry="3.4" transform="rotate(15 521.5 483.3)" fill="#2e200c"/>
<ellipse cx="521.8" cy="485.2" rx="3.3" ry="1.2" transform="rotate(15 521.5 483.3)" fill="#6a5028"/>
<ellipse cx="528.9" cy="487.1" rx="5.5" ry="4.2" transform="rotate(15 528.4 486.4)" fill="#caae74"/>
<ellipse cx="528.4" cy="486.4" rx="4.6" ry="3.3" transform="rotate(15 528.4 486.4)" fill="#2e200c"/>
<ellipse cx="528.7" cy="488.2" rx="3.4" ry="1.2" transform="rotate(15 528.4 486.4)" fill="#6a5028"/>
<ellipse cx="536.3" cy="489.1" rx="3.8" ry="2.6" transform="rotate(15 535.8 488.4)" fill="#caae74"/>
<ellipse cx="535.8" cy="488.4" rx="2.9" ry="1.7" transform="rotate(15 535.8 488.4)" fill="#2e200c"/>
<ellipse cx="536.1" cy="489.3" rx="2.1" ry="0.6" transform="rotate(15 535.8 488.4)" fill="#6a5028"/>
<ellipse cx="544.5" cy="491.8" rx="4.6" ry="3.8" transform="rotate(15 544.0 491.1)" fill="#caae74"/>
<ellipse cx="544.0" cy="491.1" rx="3.7" ry="2.9" transform="rotate(15 544.0 491.1)" fill="#2e200c"/>
<ellipse cx="544.3" cy="492.7" rx="2.7" ry="1.0" transform="rotate(15 544.0 491.1)" fill="#6a5028"/>
<ellipse cx="550.3" cy="493.9" rx="5.2" ry="3.6" transform="rotate(15 549.8 493.2)" fill="#caae74"/>
<ellipse cx="549.8" cy="493.2" rx="4.3" ry="2.7" transform="rotate(15 549.8 493.2)" fill="#2e200c"/>
<ellipse cx="550.1" cy="494.7" rx="3.2" ry="1.0" transform="rotate(15 549.8 493.2)" fill="#6a5028"/>
<ellipse cx="557.0" cy="495.3" rx="4.0" ry="3.1" transform="rotate(15 556.5 494.6)" fill="#caae74"/>
<ellipse cx="556.5" cy="494.6" rx="3.1" ry="2.2" transform="rotate(15 556.5 494.6)" fill="#2e200c"/>
<ellipse cx="556.8" cy="495.8" rx="2.3" ry="0.8" transform="rotate(15 556.5 494.6)" fill="#6a5028"/>
<ellipse cx="484.7" cy="479.5" rx="3.8" ry="3.1" transform="rotate(15 484.2 478.8)" fill="#caae74"/>
<ellipse cx="484.2" cy="478.8" rx="2.9" ry="2.2" transform="rotate(15 484.2 478.8)" fill="#2e200c"/>
<ellipse cx="484.5" cy="480.1" rx="2.1" ry="0.8" transform="rotate(15 484.2 478.8)" fill="#6a5028"/>
<ellipse cx="491.6" cy="481.9" rx="4.7" ry="3.8" transform="rotate(15 491.1 481.2)" fill="#caae74"/>
<ellipse cx="491.1" cy="481.2" rx="3.8" ry="2.9" transform="rotate(15 491.1 481.2)" fill="#2e200c"/>
<ellipse cx="491.4" cy="482.8" rx="2.8" ry="1.0" transform="rotate(15 491.1 481.2)" fill="#6a5028"/>
<ellipse cx="498.5" cy="484.7" rx="4.5" ry="3.4" transform="rotate(15 498.0 484.0)" fill="#caae74"/>
<ellipse cx="498.0" cy="484.0" rx="3.6" ry="2.5" transform="rotate(15 498.0 484.0)" fill="#2e200c"/>
<ellipse cx="498.3" cy="485.4" rx="2.7" ry="0.9" transform="rotate(15 498.0 484.0)" fill="#6a5028"/>
<ellipse cx="505.4" cy="486.0" rx="4.4" ry="3.1" transform="rotate(15 504.9 485.3)" fill="#caae74"/>
<ellipse cx="504.9" cy="485.3" rx="3.5" ry="2.2" transform="rotate(15 504.9 485.3)" fill="#2e200c"/>
<ellipse cx="505.2" cy="486.5" rx="2.6" ry="0.8" transform="rotate(15 504.9 485.3)" fill="#6a5028"/>
<ellipse cx="511.1" cy="488.8" rx="3.8" ry="2.9" transform="rotate(15 510.6 488.1)" fill="#caae74"/>
<ellipse cx="510.6" cy="488.1" rx="2.9" ry="2.0" transform="rotate(15 510.6 488.1)" fill="#2e200c"/>
<ellipse cx="510.9" cy="489.3" rx="2.2" ry="0.7" transform="rotate(15 510.6 488.1)" fill="#6a5028"/>
<ellipse cx="519.3" cy="491.3" rx="4.2" ry="3.2" transform="rotate(15 518.8 490.6)" fill="#caae74"/>
<ellipse cx="518.8" cy="490.6" rx="3.3" ry="2.3" transform="rotate(15 518.8 490.6)" fill="#2e200c"/>
<ellipse cx="519.1" cy="491.8" rx="2.4" ry="0.8" transform="rotate(15 518.8 490.6)" fill="#6a5028"/>
<ellipse cx="525.7" cy="493.7" rx="3.7" ry="2.9" transform="rotate(15 525.2 493.0)" fill="#caae74"/>
<ellipse cx="525.2" cy="493.0" rx="2.8" ry="2.0" transform="rotate(15 525.2 493.0)" fill="#2e200c"/>
<ellipse cx="525.5" cy="494.1" rx="2.1" ry="0.7" transform="rotate(15 525.2 493.0)" fill="#6a5028"/>
<ellipse cx="531.9" cy="495.1" rx="5.0" ry="3.8" transform="rotate(15 531.4 494.4)" fill="#caae74"/>
<ellipse cx="531.4" cy="494.4" rx="4.1" ry="2.9" transform="rotate(15 531.4 494.4)" fill="#2e200c"/>
<ellipse cx="531.7" cy="496.0" rx="3.1" ry="1.0" transform="rotate(15 531.4 494.4)" fill="#6a5028"/>
<ellipse cx="539.2" cy="498.2" rx="5.3" ry="3.9" transform="rotate(15 538.7 497.5)" fill="#caae74"/>
<ellipse cx="538.7" cy="497.5" rx="4.4" ry="3.0" transform="rotate(15 538.7 497.5)" fill="#2e200c"/>
<ellipse cx="539.0" cy="499.2" rx="3.3" ry="1.1" transform="rotate(15 538.7 497.5)" fill="#6a5028"/>
<ellipse cx="546.0" cy="500.2" rx="4.5" ry="3.6" transform="rotate(15 545.5 499.5)" fill="#caae74"/>
<ellipse cx="545.5" cy="499.5" rx="3.6" ry="2.7" transform="rotate(15 545.5 499.5)" fill="#2e200c"/>
<ellipse cx="545.8" cy="500.9" rx="2.7" ry="0.9" transform="rotate(15 545.5 499.5)" fill="#6a5028"/>
<ellipse cx="552.4" cy="502.4" rx="4.5" ry="3.7" transform="rotate(15 551.9 501.7)" fill="#caae74"/>
<ellipse cx="551.9" cy="501.7" rx="3.6" ry="2.8" transform="rotate(15 551.9 501.7)" fill="#2e200c"/>
<ellipse cx="552.2" cy="503.2" rx="2.7" ry="1.0" transform="rotate(15 551.9 501.7)" fill="#6a5028"/>
<ellipse cx="559.6" cy="505.2" rx="5.4" ry="3.8" transform="rotate(15 559.1 504.5)" fill="#caae74"/>
<ellipse cx="559.1" cy="504.5" rx="4.5" ry="2.9" transform="rotate(15 559.1 504.5)" fill="#2e200c"/>
<ellipse cx="559.4" cy="506.1" rx="3.4" ry="1.0" transform="rotate(15 559.1 504.5)" fill="#6a5028"/>
<ellipse cx="482.8" cy="486.4" rx="5.2" ry="3.6" transform="rotate(15 482.3 485.7)" fill="#caae74"/>
<ellipse cx="482.3" cy="485.7" rx="4.3" ry="2.7" transform="rotate(15 482.3 485.7)" fill="#2e200c"/>
<ellipse cx="482.6" cy="487.2" rx="3.2" ry="0.9" transform="rotate(15 482.3 485.7)" fill="#6a5028"/>
<ellipse cx="488.4" cy="487.8" rx="3.6" ry="2.7" transform="rotate(15 487.9 487.1)" fill="#caae74"/>
<ellipse cx="487.9" cy="487.1" rx="2.7" ry="1.8" transform="rotate(15 487.9 487.1)" fill="#2e200c"/>
<ellipse cx="488.2" cy="488.1" rx="2.1" ry="0.6" transform="rotate(15 487.9 487.1)" fill="#6a5028"/>
<ellipse cx="494.8" cy="490.4" rx="5.1" ry="4.1" transform="rotate(15 494.3 489.7)" fill="#caae74"/>
<ellipse cx="494.3" cy="489.7" rx="4.2" ry="3.2" transform="rotate(15 494.3 489.7)" fill="#2e200c"/>
<ellipse cx="494.6" cy="491.4" rx="3.1" ry="1.1" transform="rotate(15 494.3 489.7)" fill="#6a5028"/>
<ellipse cx="501.5" cy="492.8" rx="4.8" ry="3.4" transform="rotate(15 501.0 492.1)" fill="#caae74"/>
<ellipse cx="501.0" cy="492.1" rx="3.9" ry="2.5" transform="rotate(15 501.0 492.1)" fill="#2e200c"/>
<ellipse cx="501.3" cy="493.4" rx="2.9" ry="0.9" transform="rotate(15 501.0 492.1)" fill="#6a5028"/>
<ellipse cx="509.5" cy="495.9" rx="3.9" ry="3.3" transform="rotate(15 509.0 495.2)" fill="#caae74"/>
<ellipse cx="509.0" cy="495.2" rx="3.0" ry="2.4" transform="rotate(15 509.0 495.2)" fill="#2e200c"/>
<ellipse cx="509.3" cy="496.5" rx="2.3" ry="0.8" transform="rotate(15 509.0 495.2)" fill="#6a5028"/>
<ellipse cx="515.0" cy="497.3" rx="5.5" ry="4.4" transform="rotate(15 514.5 496.6)" fill="#caae74"/>
<ellipse cx="514.5" cy="496.6" rx="4.6" ry="3.5" transform="rotate(15 514.5 496.6)" fill="#2e200c"/>
<ellipse cx="514.8" cy="498.5" rx="3.4" ry="1.2" transform="rotate(15 514.5 496.6)" fill="#6a5028"/>
<ellipse cx="521.1" cy="499.4" rx="4.5" ry="3.3" transform="rotate(15 520.6 498.7)" fill="#caae74"/>
<ellipse cx="520.6" cy="498.7" rx="3.6" ry="2.4" transform="rotate(15 520.6 498.7)" fill="#2e200c"/>
<ellipse cx="520.9" cy="500.0" rx="2.7" ry="0.8" transform="rotate(15 520.6 498.7)" fill="#6a5028"/>
<ellipse cx="527.7" cy="501.6" rx="4.9" ry="3.3" transform="rotate(15 527.2 500.9)" fill="#caae74"/>
<ellipse cx="527.2" cy="500.9" rx="4.0" ry="2.4" transform="rotate(15 527.2 500.9)" fill="#2e200c"/>
<ellipse cx="527.5" cy="502.2" rx="3.0" ry="0.9" transform="rotate(15 527.2 500.9)" fill="#6a5028"/>
<ellipse cx="534.9" cy="504.3" rx="3.5" ry="2.7" transform="rotate(15 534.4 503.6)" fill="#caae74"/>
<ellipse cx="534.4" cy="503.6" rx="2.6" ry="1.8" transform="rotate(15 534.4 503.6)" fill="#2e200c"/>
<ellipse cx="534.7" cy="504.5" rx="2.0" ry="0.6" transform="rotate(15 534.4 503.6)" fill="#6a5028"/>
<ellipse cx="541.6" cy="506.7" rx="3.6" ry="3.1" transform="rotate(15 541.1 506.0)" fill="#caae74"/>
<ellipse cx="541.1" cy="506.0" rx="2.7" ry="2.2" transform="rotate(15 541.1 506.0)" fill="#2e200c"/>
<ellipse cx="541.4" cy="507.2" rx="2.0" ry="0.8" transform="rotate(15 541.1 506.0)" fill="#6a5028"/>
<ellipse cx="548.3" cy="509.7" rx="3.7" ry="2.7" transform="rotate(15 547.8 509.0)" fill="#caae74"/>
<ellipse cx="547.8" cy="509.0" rx="2.8" ry="1.8" transform="rotate(15 547.8 509.0)" fill="#2e200c"/>
<ellipse cx="548.1" cy="510.0" rx="2.1" ry="0.6" transform="rotate(15 547.8 509.0)" fill="#6a5028"/>
<ellipse cx="553.4" cy="511.3" rx="4.0" ry="2.9" transform="rotate(15 552.9 510.6)" fill="#caae74"/>
<ellipse cx="552.9" cy="510.6" rx="3.1" ry="2.0" transform="rotate(15 552.9 510.6)" fill="#2e200c"/>
<ellipse cx="553.2" cy="511.7" rx="2.4" ry="0.7" transform="rotate(15 552.9 510.6)" fill="#6a5028"/>
<ellipse cx="486.5" cy="494.6" rx="5.1" ry="3.7" transform="rotate(15 486.0 493.9)" fill="#caae74"/>
<ellipse cx="486.0" cy="493.9" rx="4.2" ry="2.8" transform="rotate(15 486.0 493.9)" fill="#2e200c"/>
<ellipse cx="486.3" cy="495.4" rx="3.2" ry="1.0" transform="rotate(15 486.0 493.9)" fill="#6a5028"/>
<ellipse cx="492.3" cy="496.8" rx="4.6" ry="3.7" transform="rotate(15 491.8 496.1)" fill="#caae74"/>
<ellipse cx="491.8" cy="496.1" rx="3.7" ry="2.8" transform="rotate(15 491.8 496.1)" fill="#2e200c"/>
<ellipse cx="492.1" cy="497.6" rx="2.8" ry="1.0" transform="rotate(15 491.8 496.1)" fill="#6a5028"/>
<ellipse cx="498.4" cy="498.1" rx="4.9" ry="3.6" transform="rotate(15 497.9 497.4)" fill="#caae74"/>
<ellipse cx="497.9" cy="497.4" rx="4.0" ry="2.7" transform="rotate(15 497.9 497.4)" fill="#2e200c"/>
<ellipse cx="498.2" cy="498.9" rx="3.0" ry="1.0" transform="rotate(15 497.9 497.4)" fill="#6a5028"/>
<ellipse cx="504.7" cy="501.5" rx="4.8" ry="3.8" transform="rotate(15 504.2 500.8)" fill="#caae74"/>
<ellipse cx="504.2" cy="500.8" rx="3.9" ry="2.9" transform="rotate(15 504.2 500.8)" fill="#2e200c"/>
<ellipse cx="504.5" cy="502.4" rx="2.9" ry="1.0" transform="rotate(15 504.2 500.8)" fill="#6a5028"/>
<ellipse cx="511.0" cy="503.8" rx="3.6" ry="3.0" transform="rotate(15 510.5 503.1)" fill="#caae74"/>
<ellipse cx="510.5" cy="503.1" rx="2.7" ry="2.1" transform="rotate(15 510.5 503.1)" fill="#2e200c"/>
<ellipse cx="510.8" cy="504.2" rx="2.0" ry="0.7" transform="rotate(15 510.5 503.1)" fill="#6a5028"/>
<ellipse cx="518.1" cy="505.8" rx="4.6" ry="3.8" transform="rotate(15 517.6 505.1)" fill="#caae74"/>
<ellipse cx="517.6" cy="505.1" rx="3.7" ry="2.9" transform="rotate(15 517.6 505.1)" fill="#2e200c"/>
<ellipse cx="517.9" cy="506.7" rx="2.8" ry="1.0" transform="rotate(15 517.6 505.1)" fill="#6a5028"/>
<ellipse cx="524.1" cy="507.8" rx="4.6" ry="3.3" transform="rotate(15 523.6 507.1)" fill="#caae74"/>
<ellipse cx="523.6" cy="507.1" rx="3.7" ry="2.4" transform="rotate(15 523.6 507.1)" fill="#2e200c"/>
<ellipse cx="523.9" cy="508.4" rx="2.7" ry="0.8" transform="rotate(15 523.6 507.1)" fill="#6a5028"/>
<ellipse cx="530.1" cy="510.1" rx="3.6" ry="2.6" transform="rotate(15 529.6 509.4)" fill="#caae74"/>
<ellipse cx="529.6" cy="509.4" rx="2.7" ry="1.7" transform="rotate(15 529.6 509.4)" fill="#2e200c"/>
<ellipse cx="529.9" cy="510.3" rx="2.0" ry="0.6" transform="rotate(15 529.6 509.4)" fill="#6a5028"/>
<ellipse cx="536.8" cy="512.7" rx="5.0" ry="3.6" transform="rotate(15 536.3 512.0)" fill="#caae74"/>
<ellipse cx="536.3" cy="512.0" rx="4.1" ry="2.7" transform="rotate(15 536.3 512.0)" fill="#2e200c"/>
<ellipse cx="536.6" cy="513.5" rx="3.1" ry="0.9" transform="rotate(15 536.3 512.0)" fill="#6a5028"/>
<ellipse cx="543.5" cy="515.1" rx="4.2" ry="2.9" transform="rotate(15 543.0 514.4)" fill="#caae74"/>
<ellipse cx="543.0" cy="514.4" rx="3.3" ry="2.0" transform="rotate(15 543.0 514.4)" fill="#2e200c"/>
<ellipse cx="543.3" cy="515.5" rx="2.5" ry="0.7" transform="rotate(15 543.0 514.4)" fill="#6a5028"/>
<ellipse cx="549.4" cy="517.1" rx="5.0" ry="3.8" transform="rotate(15 548.9 516.4)" fill="#caae74"/>
<ellipse cx="548.9" cy="516.4" rx="4.1" ry="2.9" transform="rotate(15 548.9 516.4)" fill="#2e200c"/>
<ellipse cx="549.2" cy="517.9" rx="3.0" ry="1.0" transform="rotate(15 548.9 516.4)" fill="#6a5028"/>
<ellipse cx="555.5" cy="519.9" rx="5.4" ry="3.7" transform="rotate(15 555.0 519.2)" fill="#caae74"/>
<ellipse cx="555.0" cy="519.2" rx="4.5" ry="2.8" transform="rotate(15 555.0 519.2)" fill="#2e200c"/>
<ellipse cx="555.3" cy="520.8" rx="3.4" ry="1.0" transform="rotate(15 555.0 519.2)" fill="#6a5028"/>
<ellipse cx="484.8" cy="500.3" rx="4.5" ry="3.7" transform="rotate(15 484.3 499.6)" fill="#caae74"/>
<ellipse cx="484.3" cy="499.6" rx="3.6" ry="2.8" transform="rotate(15 484.3 499.6)" fill="#2e200c"/>
<ellipse cx="484.6" cy="501.2" rx="2.7" ry="1.0" transform="rotate(15 484.3 499.6)" fill="#6a5028"/>
<ellipse cx="490.1" cy="502.5" rx="4.9" ry="4.1" transform="rotate(15 489.6 501.8)" fill="#caae74"/>
<ellipse cx="489.6" cy="501.8" rx="4.0" ry="3.2" transform="rotate(15 489.6 501.8)" fill="#2e200c"/>
<ellipse cx="489.9" cy="503.6" rx="3.0" ry="1.1" transform="rotate(15 489.6 501.8)" fill="#6a5028"/>
<ellipse cx="496.1" cy="505.3" rx="4.9" ry="3.8" transform="rotate(15 495.6 504.6)" fill="#caae74"/>
<ellipse cx="495.6" cy="504.6" rx="4.0" ry="2.9" transform="rotate(15 495.6 504.6)" fill="#2e200c"/>
<ellipse cx="495.9" cy="506.2" rx="3.0" ry="1.0" transform="rotate(15 495.6 504.6)" fill="#6a5028"/>
<ellipse cx="502.3" cy="507.2" rx="3.6" ry="2.6" transform="rotate(15 501.8 506.5)" fill="#caae74"/>
<ellipse cx="501.8" cy="506.5" rx="2.7" ry="1.7" transform="rotate(15 501.8 506.5)" fill="#2e200c"/>
<ellipse cx="502.1" cy="507.4" rx="2.0" ry="0.6" transform="rotate(15 501.8 506.5)" fill="#6a5028"/>
<ellipse cx="507.8" cy="509.8" rx="4.0" ry="2.9" transform="rotate(15 507.3 509.1)" fill="#caae74"/>
<ellipse cx="507.3" cy="509.1" rx="3.1" ry="2.0" transform="rotate(15 507.3 509.1)" fill="#2e200c"/>
<ellipse cx="507.6" cy="510.2" rx="2.3" ry="0.7" transform="rotate(15 507.3 509.1)" fill="#6a5028"/>
<ellipse cx="514.0" cy="512.4" rx="5.2" ry="4.1" transform="rotate(15 513.5 511.7)" fill="#caae74"/>
<ellipse cx="513.5" cy="511.7" rx="4.3" ry="3.2" transform="rotate(15 513.5 511.7)" fill="#2e200c"/>
<ellipse cx="513.8" cy="513.4" rx="3.3" ry="1.1" transform="rotate(15 513.5 511.7)" fill="#6a5028"/>
<ellipse cx="520.5" cy="514.2" rx="4.1" ry="3.1" transform="rotate(15 520.0 513.5)" fill="#caae74"/>
<ellipse cx="520.0" cy="513.5" rx="3.2" ry="2.2" transform="rotate(15 520.0 513.5)" fill="#2e200c"/>
<ellipse cx="520.3" cy="514.7" rx="2.4" ry="0.8" transform="rotate(15 520.0 513.5)" fill="#6a5028"/>
<ellipse cx="526.3" cy="516.8" rx="4.0" ry="3.4" transform="rotate(15 525.8 516.1)" fill="#caae74"/>
<ellipse cx="525.8" cy="516.1" rx="3.1" ry="2.5" transform="rotate(15 525.8 516.1)" fill="#2e200c"/>
<ellipse cx="526.1" cy="517.5" rx="2.3" ry="0.9" transform="rotate(15 525.8 516.1)" fill="#6a5028"/>
<ellipse cx="533.9" cy="519.9" rx="4.0" ry="3.3" transform="rotate(15 533.4 519.2)" fill="#caae74"/>
<ellipse cx="533.4" cy="519.2" rx="3.1" ry="2.4" transform="rotate(15 533.4 519.2)" fill="#2e200c"/>
<ellipse cx="533.7" cy="520.6" rx="2.3" ry="0.9" transform="rotate(15 533.4 519.2)" fill="#6a5028"/>
<ellipse cx="538.8" cy="521.6" rx="3.5" ry="2.7" transform="rotate(15 538.3 520.9)" fill="#caae74"/>
<ellipse cx="538.3" cy="520.9" rx="2.6" ry="1.8" transform="rotate(15 538.3 520.9)" fill="#2e200c"/>
<ellipse cx="538.6" cy="521.9" rx="2.0" ry="0.6" transform="rotate(15 538.3 520.9)" fill="#6a5028"/>
<ellipse cx="545.2" cy="524.4" rx="3.9" ry="3.0" transform="rotate(15 544.7 523.7)" fill="#caae74"/>
<ellipse cx="544.7" cy="523.7" rx="3.0" ry="2.1" transform="rotate(15 544.7 523.7)" fill="#2e200c"/>
<ellipse cx="545.0" cy="524.8" rx="2.3" ry="0.7" transform="rotate(15 544.7 523.7)" fill="#6a5028"/>
<ellipse cx="550.5" cy="526.1" rx="3.7" ry="2.8" transform="rotate(15 550.0 525.4)" fill="#caae74"/>
<ellipse cx="550.0" cy="525.4" rx="2.8" ry="1.9" transform="rotate(15 550.0 525.4)" fill="#2e200c"/>
<ellipse cx="550.3" cy="526.5" rx="2.1" ry="0.7" transform="rotate(15 550.0 525.4)" fill="#6a5028"/>
<ellipse cx="487.1" cy="507.7" rx="4.1" ry="3.0" transform="rotate(15 486.6 507.0)" fill="#caae74"/>
<ellipse cx="486.6" cy="507.0" rx="3.2" ry="2.1" transform="rotate(15 486.6 507.0)" fill="#2e200c"/>
<ellipse cx="486.9" cy="508.1" rx="2.4" ry="0.7" transform="rotate(15 486.6 507.0)" fill="#6a5028"/>
<ellipse cx="494.0" cy="511.2" rx="5.0" ry="3.9" transform="rotate(15 493.5 510.5)" fill="#caae74"/>
<ellipse cx="493.5" cy="510.5" rx="4.1" ry="3.0" transform="rotate(15 493.5 510.5)" fill="#2e200c"/>
<ellipse cx="493.8" cy="512.1" rx="3.1" ry="1.0" transform="rotate(15 493.5 510.5)" fill="#6a5028"/>
<ellipse cx="500.1" cy="514.1" rx="4.3" ry="3.1" transform="rotate(15 499.6 513.4)" fill="#caae74"/>
<ellipse cx="499.6" cy="513.4" rx="3.4" ry="2.2" transform="rotate(15 499.6 513.4)" fill="#2e200c"/>
<ellipse cx="499.9" cy="514.7" rx="2.5" ry="0.8" transform="rotate(15 499.6 513.4)" fill="#6a5028"/>
<ellipse cx="506.5" cy="516.0" rx="4.9" ry="3.8" transform="rotate(15 506.0 515.3)" fill="#caae74"/>
<ellipse cx="506.0" cy="515.3" rx="4.0" ry="2.9" transform="rotate(15 506.0 515.3)" fill="#2e200c"/>
<ellipse cx="506.3" cy="516.9" rx="3.0" ry="1.0" transform="rotate(15 506.0 515.3)" fill="#6a5028"/>
<ellipse cx="510.7" cy="518.5" rx="5.3" ry="4.1" transform="rotate(15 510.2 517.8)" fill="#caae74"/>
<ellipse cx="510.2" cy="517.8" rx="4.4" ry="3.2" transform="rotate(15 510.2 517.8)" fill="#2e200c"/>
<ellipse cx="510.5" cy="519.6" rx="3.3" ry="1.1" transform="rotate(15 510.2 517.8)" fill="#6a5028"/>
<ellipse cx="517.8" cy="521.5" rx="3.8" ry="2.9" transform="rotate(15 517.3 520.8)" fill="#caae74"/>
<ellipse cx="517.3" cy="520.8" rx="2.9" ry="2.0" transform="rotate(15 517.3 520.8)" fill="#2e200c"/>
<ellipse cx="517.6" cy="521.9" rx="2.2" ry="0.7" transform="rotate(15 517.3 520.8)" fill="#6a5028"/>
<ellipse cx="523.3" cy="523.8" rx="5.1" ry="4.1" transform="rotate(15 522.8 523.1)" fill="#caae74"/>
<ellipse cx="522.8" cy="523.1" rx="4.2" ry="3.2" transform="rotate(15 522.8 523.1)" fill="#2e200c"/>
<ellipse cx="523.1" cy="524.9" rx="3.2" ry="1.1" transform="rotate(15 522.8 523.1)" fill="#6a5028"/>
<ellipse cx="529.3" cy="526.4" rx="4.9" ry="3.8" transform="rotate(15 528.8 525.7)" fill="#caae74"/>
<ellipse cx="528.8" cy="525.7" rx="4.0" ry="2.9" transform="rotate(15 528.8 525.7)" fill="#2e200c"/>
<ellipse cx="529.1" cy="527.4" rx="3.0" ry="1.0" transform="rotate(15 528.8 525.7)" fill="#6a5028"/>
<ellipse cx="534.7" cy="527.6" rx="3.8" ry="2.8" transform="rotate(15 534.2 526.9)" fill="#caae74"/>
<ellipse cx="534.2" cy="526.9" rx="2.9" ry="1.9" transform="rotate(15 534.2 526.9)" fill="#2e200c"/>
<ellipse cx="534.5" cy="528.0" rx="2.1" ry="0.7" transform="rotate(15 534.2 526.9)" fill="#6a5028"/>
<ellipse cx="540.3" cy="531.0" rx="4.6" ry="3.6" transform="rotate(15 539.8 530.3)" fill="#caae74"/>
<ellipse cx="539.8" cy="530.3" rx="3.7" ry="2.7" transform="rotate(15 539.8 530.3)" fill="#2e200c"/>
<ellipse cx="540.1" cy="531.8" rx="2.8" ry="0.9" transform="rotate(15 539.8 530.3)" fill="#6a5028"/>
<ellipse cx="547.1" cy="533.6" rx="4.5" ry="3.0" transform="rotate(15 546.6 532.9)" fill="#caae74"/>
<ellipse cx="546.6" cy="532.9" rx="3.6" ry="2.1" transform="rotate(15 546.6 532.9)" fill="#2e200c"/>
<ellipse cx="546.9" cy="534.1" rx="2.7" ry="0.8" transform="rotate(15 546.6 532.9)" fill="#6a5028"/>
<ellipse cx="553.3" cy="536.3" rx="4.5" ry="3.4" transform="rotate(15 552.8 535.6)" fill="#caae74"/>
<ellipse cx="552.8" cy="535.6" rx="3.6" ry="2.5" transform="rotate(15 552.8 535.6)" fill="#2e200c"/>
<ellipse cx="553.1" cy="537.0" rx="2.7" ry="0.9" transform="rotate(15 552.8 535.6)" fill="#6a5028"/>
</g>
<text x="528.3" y="486.2" text-anchor="middle" font-family="Liberation Sans, sans-serif" font-size="21.5" letter-spacing="0.9" fill="#f4eaa8" stroke="#3a3018" stroke-width="1.2" paint-order="stroke">Hierarchical</text>
<text x="532.6" y="510.5" text-anchor="middle" font-family="Liberation Sans, sans-serif" font-size="21.5" letter-spacing="0.9" fill="#f4eaa8" stroke="#3a3018" stroke-width="1.2" paint-order="stroke">Wood</text>
<text font-family="Liberation Sans, sans-serif" font-weight="bold" font-size="21.5" fill="#111" stroke="#111" stroke-width="0.35"><textPath href="#pStruct" startOffset="50%" text-anchor="middle" textLength="171" lengthAdjust="spacingAndGlyphs">Structural Bionics</textPath></text>
<text font-family="Liberation Sans, sans-serif" font-weight="bold" font-size="21.5" fill="#111" stroke="#111" stroke-width="0.35"><textPath href="#pPerf" startOffset="50%" text-anchor="middle" textLength="211" lengthAdjust="spacingAndGlyphs">Performance Bionics</textPath></text>
<text font-family="Liberation Sans, sans-serif" font-weight="bold" font-size="23" fill="#111" stroke="#111" stroke-width="0.35"><textPath href="#pBio" startOffset="50%" text-anchor="middle">Bio-inspired Wood</textPath></text>
<text font-family="Liberation Sans, sans-serif" font-weight="bold" font-size="19.5" fill="#111" stroke="#111" stroke-width="0.35"><textPath href="#pNew" startOffset="50%" text-anchor="middle">New Functions</textPath></text>
<text font-family="Liberation Sans, sans-serif" font-weight="bold" font-size="20" fill="#111" stroke="#111" stroke-width="0.35"><textPath href="#pSup" startOffset="50%" text-anchor="middle">Superb Performance</textPath></text>
<polygon points="366.5,132.5 449.2,180.5 449.2,201.5 366.5,153.5" fill="url(#l_tree)"/>
<polygon points="448.5,180.5 561.0,116.5 561.0,137.5 448.5,201.5" fill="url(#r_tree)"/>
<polygon points="366.5,133.5 448.5,181.5 561.0,117.5 479.0,69.5" fill="url(#t_tree)"/>
<text transform="matrix(0.8692,-0.4945,0.8630,0.5052,463.8,125.5)" x="0" y="3.9" text-anchor="middle" font-family="Liberation Sans, sans-serif" font-weight="bold" font-size="17" fill="#5a944a" stroke="#5a944a" stroke-width="0.5">Tree root</text>
<polygon points="489.0,63.0 571.7,111.0 571.7,132.0 489.0,84.0" fill="url(#l_cham)"/>
<polygon points="571.0,111.0 683.5,47.0 683.5,68.0 571.0,132.0" fill="url(#r_cham)"/>
<polygon points="489.0,73.0 571.7,121.0 571.7,132.0 489.0,84.0" fill="url(#l2_cham)"/>
<polygon points="489.0,64.0 571.0,112.0 683.5,48.0 601.5,0.0" fill="url(#t_cham)"/>
<text transform="matrix(0.8692,-0.4945,0.8630,0.5052,586.2,56.0)" x="0" y="3.9" text-anchor="middle" font-family="Liberation Sans, sans-serif" font-weight="bold" font-size="17" fill="#c29c22" stroke="#c29c22" stroke-width="0.5">Chameleon</text>
<polygon points="577.0,111.5 659.7,159.5 659.7,180.5 577.0,132.5" fill="url(#l_sq)"/>
<polygon points="659.0,159.5 771.5,95.5 771.5,116.5 659.0,180.5" fill="url(#r_sq)"/>
<polygon points="577.0,112.5 659.0,160.5 771.5,96.5 689.5,48.5" fill="url(#t_sq)"/>
<text transform="matrix(0.8692,-0.4945,0.8630,0.5052,674.2,104.5)" x="0" y="3.9" text-anchor="middle" font-family="Liberation Sans, sans-serif" font-weight="bold" font-size="17" fill="#f4b4c2" stroke="#f4b4c2" stroke-width="0.5">Sea squirt</text>
<polygon points="244.0,202.0 326.7,250.0 326.7,271.0 244.0,223.0" fill="url(#l_lotus)"/>
<polygon points="326.0,250.0 438.5,186.0 438.5,207.0 326.0,271.0" fill="url(#r_lotus)"/>
<polygon points="244.0,203.0 326.0,251.0 438.5,187.0 356.5,139.0" fill="url(#t_lotus)"/>
<text transform="matrix(0.8692,-0.4945,0.8630,0.5052,341.2,195.0)" x="0" y="3.9" text-anchor="middle" font-family="Liberation Sans, sans-serif" font-weight="bold" font-size="17" fill="#d8464a" stroke="#d8464a" stroke-width="0.5">Lotus Leaf</text>
<polygon points="454.5,160.0 537.2,208.0 537.2,253.0 454.5,205.0" fill="url(#l_org)"/>
<polygon points="536.5,208.0 649.0,144.0 649.0,189.0 536.5,253.0" fill="url(#r_org)"/>
<polygon points="454.5,161.0 536.5,209.0 649.0,145.0 567.0,97.0" fill="url(#t_org)"/>
<text transform="matrix(0.8692,-0.4945,0.8630,0.5052,551.8,153.0)" x="0" y="5.2" text-anchor="middle" font-family="Liberation Sans, sans-serif" font-weight="bold" font-size="20.5" fill="#000000" stroke="#000000" stroke-width="0.5">Organisms</text>
<polygon points="665.0,163.0 747.7,211.0 747.7,232.0 665.0,184.0" fill="url(#l_red)"/>
<polygon points="747.0,211.0 859.5,147.0 859.5,168.0 747.0,232.0" fill="url(#r_red)"/>
<polygon points="665.0,164.0 747.0,212.0 859.5,148.0 777.5,100.0" fill="url(#t_red)"/>
<text transform="matrix(0.8692,-0.4945,0.8630,0.5052,762.2,156.0)" x="0" y="5.0" text-anchor="middle" font-family="Liberation Sans, sans-serif" font-weight="bold" font-size="20" fill="#d42020" stroke="#d42020" stroke-width="0.5">......</text>
<polygon points="332.0,253.5 414.7,301.5 414.7,322.5 332.0,274.5" fill="url(#l_spon)"/>
<polygon points="414.0,301.5 526.5,237.5 526.5,258.5 414.0,322.5" fill="url(#r_spon)"/>
<polygon points="332.0,254.5 414.0,302.5 526.5,238.5 444.5,190.5" fill="url(#t_spon)"/>
<text transform="matrix(0.8692,-0.4945,0.8630,0.5052,429.2,246.5)" x="0" y="3.9" text-anchor="middle" font-family="Liberation Sans, sans-serif" font-weight="bold" font-size="17" fill="#8ccfcb" stroke="#8ccfcb" stroke-width="0.5">Spongia</text>
<polygon points="542.5,232.5 625.2,280.5 625.2,301.5 542.5,253.5" fill="url(#l_turt)"/>
<polygon points="624.5,280.5 737.0,216.5 737.0,237.5 624.5,301.5" fill="url(#r_turt)"/>
<polygon points="542.5,233.5 624.5,281.5 737.0,217.5 655.0,169.5" fill="url(#t_turt)"/>
<text transform="matrix(0.8692,-0.4945,0.8630,0.5052,639.8,225.5)" x="0" y="3.9" text-anchor="middle" font-family="Liberation Sans, sans-serif" font-weight="bold" font-size="17" fill="#7846ae" stroke="#7846ae" stroke-width="0.5">Sea turtles</text>
<polygon points="420.0,305.0 502.7,353.0 502.7,374.0 420.0,326.0" fill="url(#l_nacre)"/>
<polygon points="502.0,353.0 614.5,289.0 614.5,310.0 502.0,374.0" fill="url(#r_nacre)"/>
<polygon points="420.0,306.0 502.0,354.0 614.5,290.0 532.5,242.0" fill="url(#t_nacre)"/>
<text transform="matrix(0.8692,-0.4945,0.8630,0.5052,517.2,298.0)" x="0" y="3.9" text-anchor="middle" font-family="Liberation Sans, sans-serif" font-weight="bold" font-size="17" fill="#5a7ee0" stroke="#5a7ee0" stroke-width="0.5">Nacre</text>
</svg></body></html>
